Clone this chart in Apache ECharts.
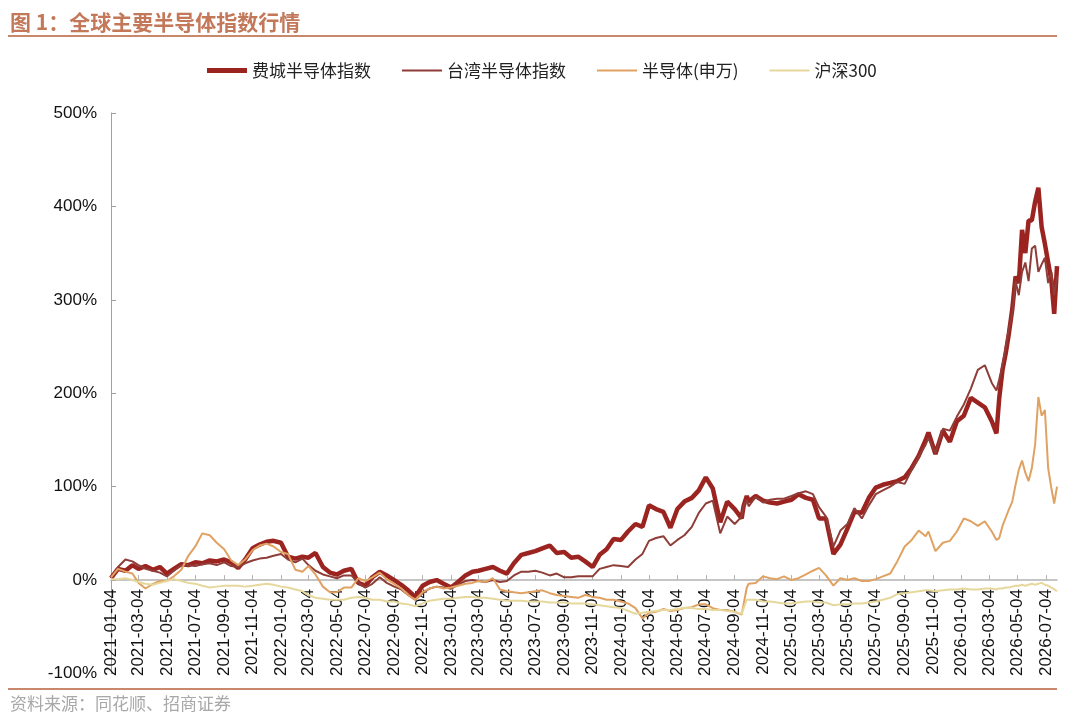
<!DOCTYPE html>
<html>
<head>
<meta charset="utf-8">
<title>全球主要半导体指数行情</title>
<script src="https://cdn.jsdelivr.net/npm/echarts@6/dist/echarts.min.js"></script>
<style>
    html, body { margin: 0; padding: 0; background: #fff; }
    #chart { width: 1080px; height: 723px; }
</style>
</head>
<body>
<div id="chart"></div>
<script>
// 横轴起止日期（按自然日展开为类目）
var firstDay = '2021-01-04';
var lastDay = '2026-07-28';

var seriesNames = ['费城半导体指数', '台湾半导体指数', '半导体(申万)', '沪深300'];

// 取样日期（从图上读数的位置）
var sampleDates = [
    '2021-01-04', '2021-01-19', '2021-02-04', '2021-02-19', '2021-03-04', '2021-03-19', '2021-04-04', '2021-04-19',
    '2021-05-04', '2021-05-19', '2021-06-04', '2021-06-19', '2021-07-04', '2021-07-19', '2021-08-04', '2021-08-19',
    '2021-09-04', '2021-09-19', '2021-10-04', '2021-10-19', '2021-11-04', '2021-11-19', '2021-12-04', '2021-12-19',
    '2022-01-04', '2022-01-19', '2022-02-04', '2022-02-19', '2022-03-04', '2022-03-19', '2022-04-04', '2022-04-19',
    '2022-05-04', '2022-05-19', '2022-06-04', '2022-06-19', '2022-07-04', '2022-07-19', '2022-08-04', '2022-08-19',
    '2022-09-04', '2022-09-19', '2022-10-04', '2022-10-19', '2022-11-04', '2022-11-19', '2022-12-04', '2022-12-19',
    '2023-01-04', '2023-01-19', '2023-02-04', '2023-02-19', '2023-03-04', '2023-03-19', '2023-04-04', '2023-04-19',
    '2023-05-04', '2023-05-19', '2023-06-04', '2023-06-19', '2023-07-04', '2023-07-19', '2023-08-04', '2023-08-19',
    '2023-09-04', '2023-09-19', '2023-10-04', '2023-10-19', '2023-11-04', '2023-11-19', '2023-12-04', '2023-12-19',
    '2024-01-04', '2024-01-19', '2024-02-04', '2024-02-19', '2024-03-04', '2024-03-19', '2024-04-04', '2024-04-19',
    '2024-05-04', '2024-05-19', '2024-06-04', '2024-06-19', '2024-07-04', '2024-07-19', '2024-08-04', '2024-08-19',
    '2024-09-04', '2024-09-19', '2024-09-23', '2024-09-30', '2024-10-04', '2024-10-19', '2024-11-04', '2024-11-19',
    '2024-12-04', '2024-12-19',
    '2025-01-04', '2025-01-19', '2025-02-04', '2025-02-19', '2025-03-04', '2025-03-19', '2025-04-04', '2025-04-19',
    '2025-05-04', '2025-05-19', '2025-06-04', '2025-06-19', '2025-07-04', '2025-07-19', '2025-08-04', '2025-08-19',
    '2025-09-04', '2025-09-19', '2025-10-04', '2025-10-19', '2025-10-25', '2025-11-09', '2025-11-25', '2025-12-10',
    '2025-12-25', '2026-01-09', '2026-01-24', '2026-02-08', '2026-02-23', '2026-03-10', '2026-03-20', '2026-03-26',
    '2026-04-02', '2026-04-09', '2026-04-16', '2026-04-23', '2026-04-30', '2026-05-07', '2026-05-14', '2026-05-21',
    '2026-05-28', '2026-06-04', '2026-06-11', '2026-06-18', '2026-06-25', '2026-07-02', '2026-07-09', '2026-07-16',
    '2026-07-22', '2026-07-28'
];

// 累计涨跌幅（%）
var phlxValues = [
    2, 12, 10, 16, 12, 15, 11, 14, 7, 12, 17, 16, 19, 18, 21, 20, 22, 19, 13, 22, 34, 38, 41, 42,
    40, 25, 23, 25, 24, 29, 14, 8, 6, 10, 12, -3, -6, 3, 9, 5, 0, -5, -11, -18, -6, -2, 0, -4,
    -8, -2, 5, 9, 10, 12, 14, 10, 7, 18, 27, 29, 31, 34, 37, 29, 30, 24, 25, 20, 14, 27, 33, 44,
    43, 52, 60, 57, 80, 76, 73, 56, 76, 84, 88, 96, 110, 98, 62, 84, 76, 66, 79, 90, 84, 90, 85, 83, 82, 84,
    86, 92, 88, 86, 66, 66, 28, 38, 55, 73, 72, 88, 99, 102, 104, 106, 110, 120, 133, 150, 158, 135, 160, 148,
    170, 176, 195, 190, 185, 170, 157, 195, 225, 243, 265, 290, 325, 318, 375, 350, 385, 385, 405, 420, 378, 360,
    340, 320, 285, 336
];
var twseValues = [
    2, 14, 22, 20, 16, 12, 10, 8, 4, 10, 16, 16, 15, 17, 18, 16, 19, 15, 14, 18, 21, 23, 24, 26,
    28, 22, 19, 23, 16, 10, 6, 4, 2, 5, 5, -3, -8, -4, 3, -3, -7, -10, -16, -21, -14, -9, -7, -8,
    -9, -5, -1, 0, -1, -2, 0, -2, -1, 5, 9, 9, 10, 8, 5, 7, 3, 3, 4, 4, 4, 12, 14, 16,
    15, 14, 22, 28, 42, 45, 47, 37, 43, 48, 57, 72, 82, 85, 50, 68, 60, 68, 79, 86, 79, 89, 83, 86, 87, 87,
    90, 93, 95, 92, 78, 68, 36, 53, 60, 77, 66, 80, 92, 96, 100, 105, 103, 118, 132, 145, 152, 136, 162, 160,
    175, 188, 205, 225, 230, 211, 203, 215, 230, 250, 270, 285, 320, 305, 330, 340, 320, 355, 358, 330, 338, 345,
    318, 330, 305, 325
];
var swSemiValues = [
    3, 12, 9, 7, -3, -9, -4, -1, -1, 4, 11, 26, 36, 50, 48, 40, 33, 21, 16, 22, 32, 37, 39, 36,
    30, 28, 11, 9, 15, 6, -7, -13, -13, -8, -8, 2, -1, 3, 8, 1, -4, -9, -16, -21, -13, -9, -7, -9,
    -8, -6, -4, -3, -1, -2, 2, -10, -12, -13, -14, -13, -12, -11, -14, -16, -17, -18, -19, -16, -18, -19, -21, -21,
    -23, -25, -30, -41, -35, -34, -31, -33, -32, -30, -29, -26, -26, -30, -32, -32, -34, -37, -39, -8, -4, -3, 4, 2, 1, 4,
    0, 2, 6, 10, 13, 5, -6, 2, 0, 2, -1, -1, 1, 4, 7, 20, 36, 43, 53, 47, 52, 31, 40, 42,
    52, 66, 63, 58, 63, 52, 43, 45, 58, 67, 76, 84, 102, 118, 128, 115, 106, 120, 145, 196, 176, 182,
    120, 98, 82, 100
];
var csi300Values = [
    1, 1, 2, 0, -2, -4, -5, -3, -1, 1, -1, -3, -4, -6, -8, -7, -6, -6, -6, -7, -6, -5, -4, -5,
    -7, -8, -10, -12, -16, -19, -20, -21, -21, -21, -19, -18, -19, -21, -21, -23, -23, -25, -26, -28, -25, -22, -21, -20,
    -20, -19, -18, -18, -19, -19, -20, -21, -22, -22, -22, -23, -23, -23, -24, -24, -24, -25, -25, -25, -26, -27, -28, -29,
    -30, -33, -36, -35, -34, -33, -32, -32, -31, -30, -30, -31, -31, -32, -32, -33, -34, -36, -37, -21, -21, -21, -23, -23, -24, -25,
    -25, -24, -23, -23, -24, -24, -27, -26, -26, -25, -25, -24, -23, -21, -19, -15, -14, -13, -12, -11, -11, -12, -11, -10,
    -10, -9, -10, -10, -9, -9, -10, -9, -9, -8, -8, -7, -6, -6, -5, -6, -5, -4, -5, -4, -3, -5,
    -6, -8, -10, -12
];

var yTicks = { min: -100, max: 500, step: 100 };

// 自然日类目
function buildDays(from, to) {
    var days = [];
    var d = new Date(from + 'T00:00:00Z');
    var end = new Date(to + 'T00:00:00Z');
    while (d <= end) {
        days.push(d.toISOString().slice(0, 10));
        d.setUTCDate(d.getUTCDate() + 1);
    }
    return days;
}

var dayList = buildDays(firstDay, lastDay);
var dayIndex = {};
for (var i = 0; i < dayList.length; i++) {
    dayIndex[dayList[i]] = i;
}

function toPairs(values) {
    var out = [];
    for (var i = 0; i < sampleDates.length; i++) {
        out.push([dayIndex[sampleDates[i]], values[i]]);
    }
    return out;
}

// 每两个月的 4 号显示刻度和标签
function showTick(index, value) {
    return value.slice(8) === '04' && Number(value.slice(5, 7)) % 2 === 1;
}

var cjkFont = '"Noto Sans CJK SC", sans-serif';
var numFont = '"Liberation Sans", Arial, sans-serif';
var ruleColor = '#c9876b';

var lineColors = ['#9c2420', '#8e3d38', '#e0a262', '#e6d89c'];
var lineWidths = [4.5, 2, 2, 2];
var allValues = [phlxValues, twseValues, swSemiValues, csi300Values];

// 绘图区
var gridBox = { left: 111, right: 23, top: 113, bottom: 49.5 };
var plotHeight = 723 - gridBox.top - gridBox.bottom;
// 横轴放在 0% 处：从底边上移 (0 - min) 所占的高度
var zeroOffset = plotHeight * (0 - yTicks.min) / (yTicks.max - yTicks.min);

var option = {
    animation: false,
    backgroundColor: '#fff',
    grid: {
        left: gridBox.left,
        right: gridBox.right,
        top: gridBox.top,
        bottom: gridBox.bottom,
        containLabel: false,
        outerBoundsMode: 'none'
    },
    // 图例
    legend: {
        left: 202,
        top: 57,
        itemWidth: 40,
        itemHeight: 14,
        itemGap: 31,
        itemStyle: { borderWidth: 0 },
        textStyle: { fontSize: 17, fontFamily: cjkFont, color: '#222' },
        data: [
            { name: seriesNames[0], icon: 'path://M0,0H40V5H0Z' },
            { name: seriesNames[1], icon: 'path://M0,0H40V2H0Z' },
            { name: seriesNames[2], icon: 'path://M0,0H40V2H0Z' },
            { name: seriesNames[3], icon: 'path://M0,0H40V2H0Z' }
        ]
    },
    xAxis: {
        type: 'category',
        data: dayList,
        boundaryGap: false,
        position: 'bottom',
        offset: -zeroOffset,
        axisLine: { onZero: false, lineStyle: { color: '#b3b3b3', width: 1.5 } },
        axisTick: { show: true, inside: true, length: 5, interval: showTick, lineStyle: { color: '#b3b3b3' } },
        axisLabel: {
            interval: showTick,
            rotate: 90,
            margin: 9,
            fontSize: 17,
            fontFamily: numFont,
            color: '#111'
        },
        splitLine: { show: false }
    },
    yAxis: {
        type: 'value',
        min: yTicks.min,
        max: yTicks.max,
        interval: yTicks.step,
        axisLine: { show: true, lineStyle: { color: '#a0a0a0', width: 1 } },
        axisTick: { show: true, inside: true, length: 5, lineStyle: { color: '#a0a0a0' } },
        axisLabel: {
            formatter: '{value}%',
            margin: 14,
            fontSize: 17,
            fontFamily: numFont,
            color: '#111'
        },
        splitLine: { show: false }
    },
    series: function () {
        var serie = [];
        for (var i = 0; i < seriesNames.length; i++) {
            serie.push({
                name: seriesNames[i],
                type: 'line',
                color: lineColors[i],
                showSymbol: false,
                symbol: 'none',
                lineStyle: { width: lineWidths[i], color: lineColors[i] },
                data: toPairs(allValues[i])
            });
        }
        return serie;
    }(),
    // 标题、分隔线、资料来源
    graphic: [
        {
            type: 'text',
            x: 10,
            y: 22,
            style: {
                text: '图 1：全球主要半导体指数行情',
                fontSize: 21,
                fontWeight: 'bold',
                fontFamily: cjkFont,
                fill: '#c3785a',
                verticalAlign: 'middle'
            }
        },
        {
            type: 'line',
            shape: { x1: 8, y1: 36, x2: 1057, y2: 36 },
            style: { stroke: ruleColor, lineWidth: 2 }
        },
        {
            type: 'line',
            shape: { x1: 8, y1: 689, x2: 1057, y2: 689 },
            style: { stroke: ruleColor, lineWidth: 2 }
        },
        {
            type: 'text',
            x: 10,
            y: 704,
            style: {
                text: '资料来源：同花顺、招商证券',
                fontSize: 17,
                fontFamily: cjkFont,
                fill: '#a8a8a8',
                verticalAlign: 'middle'
            }
        }
    ]
};

var myChart = echarts.init(document.getElementById('chart'));
myChart.setOption(option);
</script>
</body>
</html>
